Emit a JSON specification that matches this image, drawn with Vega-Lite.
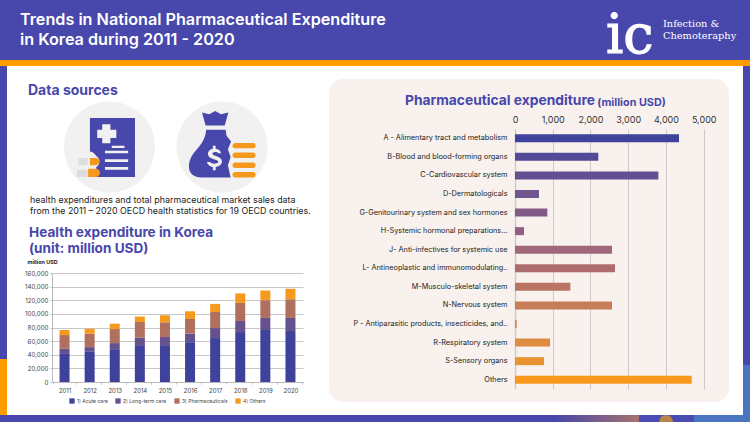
{
"$schema":"https://vega.github.io/schema/vega-lite/v6.json",
"padding":0,"background":"#ffffff","spacing":0,
"resolve":{"scale":{"color":"independent","shape":"independent"}},
"config":{"view":{"stroke":null},"concat":{"spacing":0},"font":"Inter"},
"datasets":{
"blank":[{"k":"a"}],
"logo":[{"mark":"ic"}],
"health":[
{"year":"2011","category":"1) Acute care","value":42300},{"year":"2011","category":"2) Long-term care","value":6400},{"year":"2011","category":"3) Pharmaceuticals","value":20200},{"year":"2011","category":"4) Others","value":7400},
{"year":"2012","category":"1) Acute care","value":44300},{"year":"2012","category":"2) Long-term care","value":6900},{"year":"2012","category":"3) Pharmaceuticals","value":19700},{"year":"2012","category":"4) Others","value":7300},
{"year":"2013","category":"1) Acute care","value":48200},{"year":"2013","category":"2) Long-term care","value":8900},{"year":"2013","category":"3) Pharmaceuticals","value":20600},{"year":"2013","category":"4) Others","value":7900},
{"year":"2014","category":"1) Acute care","value":54100},{"year":"2014","category":"2) Long-term care","value":10900},{"year":"2014","category":"3) Pharmaceuticals","value":23100},{"year":"2014","category":"4) Others","value":7900},
{"year":"2015","category":"1) Acute care","value":54100},{"year":"2015","category":"2) Long-term care","value":11900},{"year":"2015","category":"3) Pharmaceuticals","value":21600},{"year":"2015","category":"4) Others","value":10400},
{"year":"2016","category":"1) Acute care","value":58500},{"year":"2016","category":"2) Long-term care","value":12400},{"year":"2016","category":"3) Pharmaceuticals","value":21600},{"year":"2016","category":"4) Others","value":11300},
{"year":"2017","category":"1) Acute care","value":64500},{"year":"2017","category":"2) Long-term care","value":14700},{"year":"2017","category":"3) Pharmaceuticals","value":23600},{"year":"2017","category":"4) Others","value":11900},
{"year":"2018","category":"1) Acute care","value":73300},{"year":"2018","category":"2) Long-term care","value":16200},{"year":"2018","category":"3) Pharmaceuticals","value":26600},{"year":"2018","category":"4) Others","value":13900},
{"year":"2019","category":"1) Acute care","value":76300},{"year":"2019","category":"2) Long-term care","value":17700},{"year":"2019","category":"3) Pharmaceuticals","value":26000},{"year":"2019","category":"4) Others","value":14300},
{"year":"2020","category":"1) Acute care","value":74800},{"year":"2020","category":"2) Long-term care","value":19200},{"year":"2020","category":"3) Pharmaceuticals","value":27500},{"year":"2020","category":"4) Others","value":15300}
],
"pharma":[
{"group":"A - Alimentary tract and metabolism","value":4346},
{"group":"B-Blood and blood-forming organs","value":2208},
{"group":"C-Cardiovascular system","value":3799},
{"group":"D-Dermatologicals","value":636},
{"group":"G-Genitourinary system and sex hormones","value":857},
{"group":"H-Systemic hormonal preparations...","value":238},
{"group":"J- Anti-infectives for systemic use","value":2570},
{"group":"L- Antineoplastic and immunomodulating..","value":2650},
{"group":"M-Musculo-skeletal system","value":1466},
{"group":"N-Nervous system","value":2570},
{"group":"P - Antiparasitic products, insecticides, and..","value":44},
{"group":"R-Respiratory system","value":928},
{"group":"S-Sensory organs","value":769},
{"group":"Others","value":4682}
],
"icons":[
{"icon":"doc","part":"disc"},{"icon":"money","part":"disc"},
{"icon":"doc","part":"sheet"},{"icon":"doc","part":"marks"},{"icon":"doc","part":"pillGrey"},{"icon":"doc","part":"pillOrange"},
{"icon":"money","part":"bag"},{"icon":"money","part":"dollar"},{"icon":"money","part":"coins"}
]
},
"vconcat":[
{"hconcat":[
 {"width":600,"height":60,"view":{"fill":"#4847ab"},"data":{"name":"blank"},"mark":{"type":"rect","opacity":0},"encoding":{},
  "title":{"text":["Trends in National Pharmaceutical Expenditure","in Korea during 2011 - 2020"],"anchor":"start","orient":"top","offset":-48,"dx":20,"color":"#ffffff","font":"Inter","fontSize":16.2,"fontWeight":600,"lineHeight":20}},
 {"width":60,"height":60,"view":{"fill":"#4847ab"},"data":{"name":"logo"},
  "mark":{"type":"text","clip":true,"align":"left","baseline":"alphabetic","color":"#ffffff","font":"DejaVu Serif","fontSize":54,"stroke":"#ffffff","strokeWidth":1.2},
  "encoding":{"text":{"field":"mark","type":"nominal"},
   "x":{"field":"mark","type":"nominal","axis":null,"scale":{"type":"point","range":[6,6]}},
   "y":{"field":"mark","type":"nominal","axis":null,"scale":{"type":"point","range":[53,53]}}}},
 {"width":90,"height":60,"view":{"fill":"#4847ab"},"data":{"name":"blank"},"mark":{"type":"rect","opacity":0},"encoding":{},
  "title":{"text":["Infection &","Chemoteraphy"],"anchor":"start","orient":"top","offset":-41,"dx":3,"color":"#ffffff","font":"DejaVu Serif","fontSize":9.8,"fontWeight":400,"lineHeight":12.5}}
],"spacing":0},
{"width":750,"height":6,"view":{"fill":"#ff9d00"},"data":{"name":"blank"},"mark":{"type":"rect","opacity":0},"encoding":{}},
{"hconcat":[
 {"vconcat":[
  {"width":7,"height":293,"view":{"fill":"#4847ab"},"data":{"name":"blank"},"mark":{"type":"rect","opacity":0},"encoding":{}},
  {"width":7,"height":56,"view":{"fill":"#ff9d00"},"data":{"name":"blank"},"mark":{"type":"rect","opacity":0},"encoding":{}}
 ],"spacing":0},
 {"vconcat":[
  {"width":322,"height":127,"data":{"name":"icons"},
   "title":{"text":"Data sources","anchor":"start","orient":"top","offset":-32,"dx":21,"color":"#4847ab","font":"Inter","fontSize":14,"fontWeight":700},
   "mark":{"type":"point","filled":true,"size":8281,"opacity":1},
   "encoding":{
    "x":{"field":"icon","type":"nominal","axis":null,"sort":null,"scale":{"type":"point","padding":0,"domain":["doc","money"],"range":[102.5,215]}},
    "y":{"field":"icon","type":"nominal","axis":null,"sort":null,"scale":{"type":"point","padding":0,"domain":["doc","money"],"range":[81,81]}},
    "color":{"field":"part","type":"nominal","legend":null,"scale":{"domain":["disc","sheet","marks","pillGrey","pillOrange","bag","dollar","coins"],"range":["#f1f1f1","#4847ab","#f1f1f1","#dddddd","#f7981c","#4847ab","#f1f1f1","#f7981c"]}},
    "shape":{"field":"part","type":"nominal","legend":null,"scale":{"domain":["disc","sheet","marks","pillGrey","pillOrange","bag","dollar","coins"],"range":[
     "circle",
     "M-.43 -.64H.56V.66H-.46A.2 .2 0 0 0 -.29 .44A.14 .14 0 0 0 -.29 .2A.2 .2 0 0 0 -.43 .1Z",
     "M-.16 -.5H.02V-.38H.15V-.2H.02V-.08H-.16V-.2H-.27V-.38H-.16ZM.05 -.03H.33V.02H.05ZM-.1 .08H.41V.14H-.1ZM-.1 .27H.41V.33H-.1ZM-.1 .44H.41V.5H-.1Z",
     "M-.68 .24H-.48V.4H-.68ZM-.72 .5H-.48V.66H-.72Z",
     "M-.43 .24H-.3A.08 .08 0 0 1 -.3 .4H-.43ZM-.47 .48H-.3A.08 .08 0 0 1 -.3 .66H-.47Z",
     "M-.15 -.79L-.28 -.72L-.44 -.76L-.36 -.47H.06L.14 -.76L-.02 -.72ZM-.35 -.38H.08L.1 -.25L.2 -.12L.13 .05L.19 .22L.13 .4L.19 .67H-.45C-.8 .67 -.8 .3 -.55 .05C-.42 -.1 -.35 -.25 -.35 -.38Z",
     "M-.2 -.03H-.14V.04C-.07 .05 -.03 .09 -.02 .14H-.08C-.1 .1 -.2 .1 -.21 .15C-.22 .2 0 .2 0 .32C0 .38 -.06 .43 -.14 .44V.51H-.2V.44C-.27 .43 -.32 .39 -.33 .33H-.26C-.24 .38 -.09 .38 -.08 .33C-.07 .27 -.31 .28 -.31 .15C-.31 .09 -.26 .05 -.2 .04Z",
     "M.29 -.09H.68A.06 .06 0 0 1 .68 .03H.29A.06 .06 0 0 1 .29 -.09ZM.29 .12H.68A.06 .06 0 0 1 .68 .24H.29A.06 .06 0 0 1 .29 .12ZM.29 .34H.68A.06 .06 0 0 1 .68 .46H.29A.06 .06 0 0 1 .29 .34ZM.29 .55H.68A.06 .06 0 0 1 .68 .67H.29A.06 .06 0 0 1 .29 .55Z"
    ]}}
   }},
  {"width":322,"height":28,"data":{"name":"blank"},"mark":{"type":"rect","opacity":0},"encoding":{},
   "title":{"text":["health expenditures and total pharmaceutical market sales data","from the 2011 – 2020 OECD health statistics for 19 OECD countries."],"anchor":"start","orient":"top","offset":-23,"dx":23,"color":"#222222","font":"Inter","fontSize":8.9,"fontWeight":400,"lineHeight":11.5}},
  {"width":322,"height":194,"data":{"name":"health"},
   "title":{"text":["Health expenditure in Korea","(unit: million USD)"],"anchor":"start","orient":"top","offset":-35,"dx":22,"color":"#4847ab","font":"Inter","fontSize":13.6,"fontWeight":700,"lineHeight":16},
   "mark":{"type":"bar","width":10},
   "encoding":{
    "x":{"field":"year","type":"nominal","title":null,"scale":{"type":"band","range":[45,296]},"axis":{"offset":-33,"labelAngle":0,"labelFontSize":6,"labelColor":"#444444","domainColor":"#bbbbbb","tickColor":"#bbbbbb","tickBand":"extent","tickSize":2,"labelPadding":3}},
    "y":{"field":"value","type":"quantitative","aggregate":"sum","stack":"zero","scale":{"domain":[0,160000],"range":[161,52]},"axis":{"offset":-45,"values":[0,20000,40000,60000,80000,100000,120000,140000,160000],"format":",.0f","title":"million USD","titleAngle":0,"titleX":-25,"titleY":43,"titleAlign":"left","titleFontSize":5.4,"titleFontWeight":700,"titleColor":"#222222","labelFontSize":6.2,"labelColor":"#444444","gridColor":"#c8c8c8","domainColor":"#bbbbbb","tickColor":"#bbbbbb","tickSize":2,"labelPadding":2}},
    "color":{"field":"category","type":"nominal","sort":null,"scale":{"domain":["1) Acute care","2) Long-term care","3) Pharmaceuticals","4) Others"],"range":["#3f429b","#66518f","#b0705f","#f59a1e"]},"legend":{"title":null,"orient":"none","legendX":62,"legendY":177,"direction":"horizontal","columns":4,"labelFontSize":5,"labelColor":"#444444","symbolType":"square","symbolSize":28,"columnPadding":7,"labelOffset":2,"symbolStrokeWidth":0}},
    "order":{"field":"category"}
   }}
 ],"spacing":0,"resolve":{"scale":{"color":"independent","shape":"independent"}}},
 {"vconcat":[
  {"width":400,"height":13,"data":{"name":"blank"},"mark":{"type":"rect","opacity":0},"encoding":{}},
  {"width":400,"height":323,"view":{"fill":"#f8f1ed","cornerRadius":14},"data":{"name":"pharma"},
  "title":{"text":"Pharmaceutical expenditure","anchor":"start","orient":"top","offset":-29,"dx":76,"color":"#4847ab","font":"Inter","fontSize":13.8,"fontWeight":700},
  "mark":{"type":"bar","height":8},
  "encoding":{
   "x":{"field":"value","type":"quantitative","scale":{"domain":[0,5000],"range":[186,374.7]},"axis":{"orient":"top","offset":-49,"format":",.0f","values":[0,1000,2000,3000,4000,5000],"labelFlush":false,"labelFontSize":9,"labelColor":"#333333","gridColor":"#cfcaca","domain":false,"ticks":false,"labelPadding":4,"title":"(million USD)","titleX":302,"titleY":-21,"titleColor":"#4847ab","titleFontSize":10.8,"titleFontWeight":700}},
   "y":{"field":"group","type":"nominal","sort":null,"title":null,"scale":{"type":"band","range":[50,310],"paddingInner":0.57,"paddingOuter":0.285},"axis":{"orient":"left","offset":-186,"labelFontSize":7.3,"labelColor":"#222222","ticks":false,"domainColor":"#d0cccc","domainWidth":1.5,"labelPadding":8,"labelLimit":200}},
   "color":{"field":"group","type":"nominal","sort":null,"legend":null,"scale":{"range":["#3f439c","#524a96","#634f90","#71558e","#825a88","#8f5f85","#a0677a","#ae6d6d","#b97462","#c77e58","#d4854f","#de8c40","#e99231","#f7981c"]}}
  }},
  {"width":400,"height":13,"data":{"name":"blank"},"mark":{"type":"rect","opacity":0},"encoding":{}}
 ],"spacing":0,"resolve":{"scale":{"color":"independent"}}},
 {"width":14,"height":349,"data":{"name":"blank"},"mark":{"type":"rect","opacity":0},"encoding":{}},
 {"vconcat":[
  {"width":7,"height":299,"view":{"fill":"#4847ab"},"data":{"name":"blank"},"mark":{"type":"rect","opacity":0},"encoding":{}},
  {"width":7,"height":50,"view":{"fill":"#4a74bd"},"data":{"name":"blank"},"mark":{"type":"rect","opacity":0},"encoding":{}}
 ],"spacing":0}
],"spacing":0,"resolve":{"scale":{"color":"independent","shape":"independent"}}},
{"hconcat":[
 {"width":555,"height":7,"view":{"fill":"#4847ab"},"data":{"name":"blank"},"mark":{"type":"rect","opacity":0},"encoding":{}},
 {"width":84,"height":7,"view":{"fill":{"gradient":"linear","x1":0,"x2":1,"y1":0,"y2":0,"stops":[{"offset":0,"color":"#4847ab"},{"offset":1,"color":"#a5726f"}]}},"data":{"name":"blank"},"mark":{"type":"rect","opacity":0},"encoding":{}},
 {"width":55,"height":7,"view":{"fill":"#4b4bb5"},"data":{"name":"blank"},"mark":{"type":"point","filled":true,"clip":true,"color":"#b9864a","size":196,"opacity":1},
  "encoding":{"x":{"field":"k","type":"nominal","axis":null,"scale":{"type":"point","padding":0,"range":[27,27]}},"y":{"field":"k","type":"nominal","axis":null,"scale":{"type":"point","padding":0,"range":[7,7]}}}},
 {"width":56,"height":7,"view":{"fill":"#4a74bd"},"data":{"name":"blank"},"mark":{"type":"rect","opacity":0},"encoding":{}}
],"spacing":0}
]
}
